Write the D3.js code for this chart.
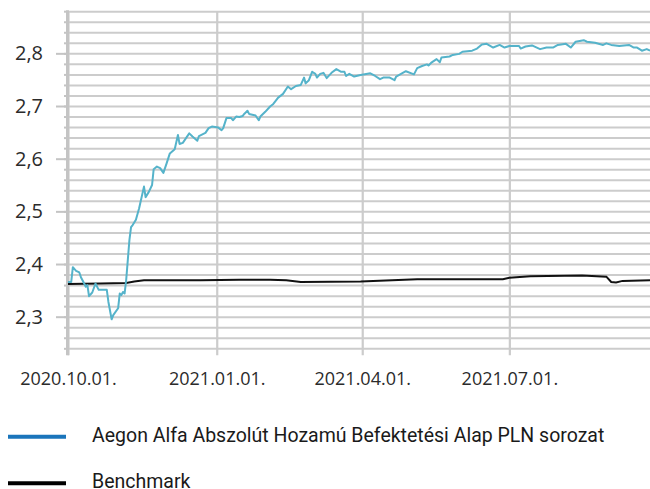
<!DOCTYPE html>
<html lang="hu">
<head>
	<meta charset="utf-8">
	<title>Aegon Alfa - árfolyam</title>
	<script src="https://cdn.jsdelivr.net/npm/d3@7"></script>
	<style>
		body { margin: 0; background: #fff; }
		svg { display: block; }
	</style>
</head>
<body>
<script>
// fund series
var fundDates = [
	"2020-10-01","2020-10-03","2020-10-04","2020-10-06","2020-10-08","2020-10-09","2020-10-11","2020-10-12","2020-10-13","2020-10-14",
	"2020-10-16","2020-10-18","2020-10-20","2020-10-25","2020-10-26","2020-10-28","2020-10-29",
	"2020-11-01","2020-11-02","2020-11-03","2020-11-04","2020-11-05","2020-11-06","2020-11-07","2020-11-08","2020-11-09","2020-11-10",
	"2020-11-12","2020-11-14","2020-11-17","2020-11-18","2020-11-20","2020-11-22","2020-11-23","2020-11-25","2020-11-27","2020-11-29",
	"2020-12-01","2020-12-03","2020-12-06","2020-12-08","2020-12-09","2020-12-11","2020-12-15","2020-12-17","2020-12-20","2020-12-21",
	"2020-12-25","2020-12-27","2020-12-29",
	"2021-01-02","2021-01-04","2021-01-05","2021-01-07","2021-01-10","2021-01-11","2021-01-13","2021-01-15","2021-01-17","2021-01-18",
	"2021-01-20","2021-01-21","2021-01-25","2021-01-27","2021-01-28","2021-01-31",
	"2021-02-03","2021-02-05","2021-02-08","2021-02-11","2021-02-14","2021-02-16","2021-02-19","2021-02-22","2021-02-24","2021-02-25","2021-02-27",
	"2021-03-01","2021-03-03","2021-03-04","2021-03-06","2021-03-08","2021-03-10","2021-03-13","2021-03-16","2021-03-19","2021-03-21",
	"2021-03-22","2021-03-24","2021-03-27","2021-03-31",
	"2021-04-06","2021-04-09","2021-04-12","2021-04-14","2021-04-18","2021-04-21","2021-04-22","2021-04-25","2021-04-28",
	"2021-05-03","2021-05-05","2021-05-08","2021-05-11","2021-05-12","2021-05-14","2021-05-17","2021-05-19","2021-05-20","2021-05-25","2021-05-27","2021-05-31",
	"2021-06-02","2021-06-08","2021-06-11","2021-06-14","2021-06-17","2021-06-21","2021-06-25","2021-06-28",
	"2021-07-01","2021-07-07","2021-07-08","2021-07-11","2021-07-15","2021-07-20","2021-07-24","2021-07-28","2021-07-31",
	"2021-08-05","2021-08-08","2021-08-11","2021-08-16","2021-08-18","2021-08-23","2021-08-28","2021-08-30",
	"2021-09-02","2021-09-07","2021-09-13","2021-09-16","2021-09-18","2021-09-21","2021-09-24","2021-09-26"
];
var fundValues = [
	2.366,2.366,2.394,2.387,2.384,2.375,2.363,2.357,2.360,2.339,
	2.346,2.363,2.351,2.351,2.328,2.295,2.303,
	2.316,2.344,2.341,2.347,2.344,2.370,2.408,2.446,2.470,2.474,
	2.484,2.506,2.547,2.527,2.537,2.550,2.580,2.585,2.582,2.573,
	2.591,2.610,2.618,2.645,2.628,2.630,2.648,2.642,2.634,2.643,
	2.649,2.658,2.661,
	2.659,2.654,2.658,2.677,2.677,2.673,2.680,2.679,2.681,2.685,
	2.691,2.685,2.682,2.673,2.680,2.689,
	2.699,2.704,2.716,2.723,2.737,2.732,2.738,2.740,2.754,2.743,2.749,
	2.765,2.761,2.754,2.761,2.763,2.753,2.763,2.770,2.765,2.765,
	2.757,2.761,2.756,2.759,
	2.762,2.757,2.751,2.754,2.754,2.749,2.756,2.761,2.766,
	2.760,2.772,2.776,2.779,2.777,2.783,2.789,2.783,2.792,2.794,2.797,2.799,
	2.803,2.805,2.809,2.817,2.818,2.811,2.816,2.811,
	2.814,2.814,2.809,2.813,2.815,2.808,2.811,2.811,2.816,
	2.818,2.811,2.822,2.825,2.822,2.820,2.816,2.819,
	2.816,2.814,2.816,2.811,2.811,2.805,2.808,2.805
];

// benchmark series
var benchDates = [
	"2020-10-01","2020-10-21","2020-11-06","2020-11-11","2020-11-17","2020-12-22","2021-01-15","2021-02-03","2021-02-13",
	"2021-02-22","2021-03-31","2021-05-05","2021-06-27","2021-07-01","2021-07-14","2021-08-15","2021-08-30","2021-09-02",
	"2021-09-05","2021-09-09","2021-09-26"
];
var benchValues = [
	2.362,2.363,2.364,2.367,2.369,2.369,2.370,2.370,2.369,
	2.366,2.367,2.371,2.371,2.374,2.377,2.378,2.376,2.366,
	2.365,2.368,2.369
];

// axis ticks
var xTickDates = ["2020-10-01","2021-01-01","2021-04-01","2021-07-01"];
var yMajorTicks = [2.3, 2.4, 2.5, 2.6, 2.7, 2.8];
var yMinorTicks = d3.range(112, 145).map(function(i){ return i / 50; });

var seriesNames = ["Aegon Alfa Abszolút Hozamú Befektetési Alap PLN sorozat", "Benchmark"];
var legendColors = ["#1a75bb", "#000000"];

var width = 650, height = 489;
var margin = {top: 11.2, left: 68, right: 0, bottom: 140.7};
var w = width - margin.left - margin.right;
var h = height - margin.top - margin.bottom;

var parse = d3.timeParse("%Y-%m-%d");
var fund = fundDates.map(function(d, i){ return {date: parse(d), value: fundValues[i]}; });
var bench = benchDates.map(function(d, i){ return {date: parse(d), value: benchValues[i]}; });

var svg = d3.select("body").append("svg")
	.attr("width", width)
	.attr("height", height)
	.style("background", "#fff");

var g = svg.append("g")
	.attr("transform", "translate(" + margin.left + "," + margin.top + ")");

var x = d3.scaleTime()
	.domain([parse("2020-10-01"), parse("2021-09-26")])
	.range([0, w]);

var y = d3.scaleLinear()
	.domain([2.24, 2.88])
	.range([h, 0]);

var gridColor = "#cccccc";
var axisColor = "#c4c4c4";
var labelFont = "'Open Sans', 'Noto Sans', sans-serif";

// horizontal grid lines
var yGrid = g.append("g")
	.call(d3.axisLeft(y).tickValues(yMinorTicks).tickSize(-w).tickFormat(""));
yGrid.select(".domain").remove();
yGrid.selectAll("line").attr("stroke", gridColor).attr("stroke-width", 2);

// vertical grid lines + stubs below the plot
var xTicks = xTickDates.map(parse);
var xGrid = g.append("g")
	.attr("transform", "translate(0," + (h + 7) + ")")
	.call(d3.axisBottom(x).tickValues(xTicks).tickSize(-(h + 7)).tickFormat(""));
xGrid.select(".domain").remove();
xGrid.selectAll("line").attr("stroke", gridColor).attr("stroke-width", 2.2);

// minor y stubs
var yMinor = g.append("g")
	.call(d3.axisLeft(y).tickValues(yMinorTicks).tickSize(4).tickFormat(""));
yMinor.select(".domain").remove();
yMinor.selectAll("line").attr("stroke", axisColor).attr("stroke-width", 2);

// major y ticks with labels
var yAxis = g.append("g")
	.call(d3.axisLeft(y).tickValues(yMajorTicks).tickSize(12).tickPadding(13)
		.tickFormat(function(d){ return d3.format(".1f")(d).replace(".", ","); }));
yAxis.select(".domain").remove();
yAxis.selectAll("line").attr("stroke", axisColor).attr("stroke-width", 2);
yAxis.selectAll("text")
	.attr("fill", "#2b2b2b")
	.style("font-family", labelFont)
	.style("font-size", "20px");

// x labels
var xAxis = g.append("g")
	.attr("transform", "translate(0," + h + ")")
	.call(d3.axisBottom(x).tickValues(xTicks).tickSize(0).tickPadding(24)
		.tickFormat(d3.timeFormat("%Y.%m.%d.")));
xAxis.select(".domain").remove();
xAxis.selectAll("text")
	.attr("fill", "#2b2b2b")
	.style("font-family", labelFont)
	.style("font-size", "18px");

// left axis line
g.append("line")
	.attr("x1", -0.5).attr("x2", -0.5)
	.attr("y1", y(2.88) - 1).attr("y2", h + 7)
	.attr("stroke", axisColor)
	.attr("stroke-width", 3);

var line = d3.line()
	.x(function(d){ return x(d.date); })
	.y(function(d){ return y(d.value); });

g.append("path")
	.datum(bench)
	.attr("fill", "none")
	.attr("stroke", "#111")
	.attr("stroke-width", 2)
	.attr("d", line);

g.append("path")
	.datum(fund)
	.attr("fill", "none")
	.attr("stroke", "#55b3ca")
	.attr("stroke-width", 2)
	.attr("stroke-linejoin", "round")
	.attr("d", line);

// legend
var legend = svg.append("g");
var rows = legend.selectAll("g")
	.data(seriesNames)
	.enter().append("g")
	.attr("transform", function(d, i){ return "translate(0," + (436.7 + i * 46.6) + ")"; });

rows.append("line")
	.attr("x1", 8).attr("x2", 66)
	.attr("stroke", function(d, i){ return legendColors[i]; })
	.attr("stroke-width", 4);

rows.append("text")
	.attr("x", 92)
	.attr("y", function(d, i){ return i === 0 ? 5.5 : 4.2; })
	.attr("fill", "#1a1a1a")
	.style("font-family", "Roboto, 'Noto Sans', sans-serif")
	.style("font-size", "19.5px")
	.text(function(d){ return d; });
</script>
</body>
</html>
